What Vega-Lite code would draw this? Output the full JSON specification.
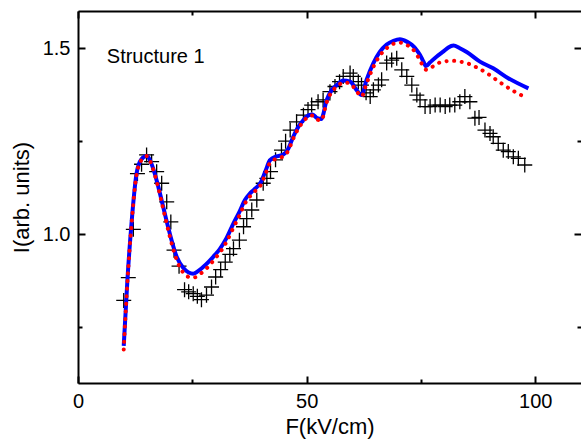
{
  "$schema": "https://vega.github.io/schema/vega-lite/v6.json",
  "width": 503,
  "height": 372,
  "autosize": {"type": "none"},
  "padding": {"left": 78, "top": 11, "right": 0, "bottom": 60},
  "background": "white",
  "config": {
    "view": {"stroke": null},
    "font": "Liberation Sans",
    "axis": {
      "domainColor": "black", "domainWidth": 2, "tickColor": "black", "tickWidth": 2,
      "labelColor": "black", "titleColor": "black", "labelFontSize": 20, "titleFontSize": 22,
      "titleFontWeight": "normal", "grid": false, "labelFont": "Liberation Sans", "titleFont": "Liberation Sans"
    }
  },
  "datasets": {
    "exp": [
      {"F": 10.0, "I": 0.822}, {"F": 11.0, "I": 0.883}, {"F": 12.1, "I": 1.013}, {"F": 13.0, "I": 1.163},
      {"F": 13.9, "I": 1.188}, {"F": 15.0, "I": 1.213}, {"F": 16.1, "I": 1.195}, {"F": 17.2, "I": 1.168},
      {"F": 18.3, "I": 1.137}, {"F": 19.4, "I": 1.087}, {"F": 20.3, "I": 1.033}, {"F": 21.0, "I": 0.957},
      {"F": 22.1, "I": 0.914}, {"F": 23.3, "I": 0.851}, {"F": 24.2, "I": 0.845}, {"F": 25.2, "I": 0.84},
      {"F": 26.1, "I": 0.833}, {"F": 27.0, "I": 0.824}, {"F": 28.1, "I": 0.836}, {"F": 29.2, "I": 0.858},
      {"F": 30.1, "I": 0.885}, {"F": 31.2, "I": 0.905}, {"F": 32.2, "I": 0.925}, {"F": 33.2, "I": 0.946},
      {"F": 34.0, "I": 0.961}, {"F": 35.3, "I": 0.984}, {"F": 36.2, "I": 1.02}, {"F": 36.9, "I": 1.042},
      {"F": 38.0, "I": 1.065}, {"F": 39.1, "I": 1.092}, {"F": 40.5, "I": 1.137}, {"F": 41.3, "I": 1.15},
      {"F": 42.1, "I": 1.168}, {"F": 43.2, "I": 1.2}, {"F": 44.5, "I": 1.226}, {"F": 45.4, "I": 1.25},
      {"F": 46.4, "I": 1.28}, {"F": 47.8, "I": 1.302}, {"F": 49.3, "I": 1.32}, {"F": 50.3, "I": 1.335},
      {"F": 51.1, "I": 1.347}, {"F": 52.5, "I": 1.356}, {"F": 53.6, "I": 1.361}, {"F": 55.1, "I": 1.383},
      {"F": 56.2, "I": 1.397}, {"F": 57.2, "I": 1.41}, {"F": 58.0, "I": 1.424}, {"F": 59.5, "I": 1.433},
      {"F": 60.2, "I": 1.424}, {"F": 61.3, "I": 1.41}, {"F": 62.0, "I": 1.401}, {"F": 63.0, "I": 1.38},
      {"F": 63.9, "I": 1.37}, {"F": 64.6, "I": 1.388}, {"F": 65.7, "I": 1.401}, {"F": 66.4, "I": 1.415},
      {"F": 67.5, "I": 1.46}, {"F": 68.6, "I": 1.468}, {"F": 69.7, "I": 1.473}, {"F": 70.8, "I": 1.442},
      {"F": 71.9, "I": 1.424}, {"F": 73.0, "I": 1.401}, {"F": 74.1, "I": 1.374}, {"F": 74.8, "I": 1.361},
      {"F": 75.9, "I": 1.343}, {"F": 77.0, "I": 1.343}, {"F": 78.1, "I": 1.347}, {"F": 79.2, "I": 1.347},
      {"F": 80.3, "I": 1.343}, {"F": 81.3, "I": 1.347}, {"F": 82.4, "I": 1.347}, {"F": 83.5, "I": 1.356},
      {"F": 84.6, "I": 1.37}, {"F": 85.7, "I": 1.356}, {"F": 86.8, "I": 1.312}, {"F": 87.7, "I": 1.314},
      {"F": 89.0, "I": 1.28}, {"F": 90.1, "I": 1.271}, {"F": 90.8, "I": 1.262}, {"F": 91.9, "I": 1.244},
      {"F": 93.0, "I": 1.226}, {"F": 94.1, "I": 1.222}, {"F": 95.2, "I": 1.208}, {"F": 96.3, "I": 1.204},
      {"F": 97.7, "I": 1.186}
    ],
    "blue": [
      {"F": 10.0, "I": 0.70}, {"F": 10.8, "I": 0.876}, {"F": 11.7, "I": 1.029}, {"F": 12.8, "I": 1.163},
      {"F": 13.8, "I": 1.2}, {"F": 15.0, "I": 1.21}, {"F": 16.2, "I": 1.185}, {"F": 17.3, "I": 1.14},
      {"F": 18.6, "I": 1.075}, {"F": 20.0, "I": 1.005}, {"F": 21.6, "I": 0.939}, {"F": 23.0, "I": 0.91},
      {"F": 24.2, "I": 0.897}, {"F": 25.2, "I": 0.894}, {"F": 26.7, "I": 0.905}, {"F": 28.5, "I": 0.925},
      {"F": 30.0, "I": 0.945}, {"F": 31.0, "I": 0.96}, {"F": 32.5, "I": 0.99}, {"F": 34.0, "I": 1.029},
      {"F": 35.3, "I": 1.06}, {"F": 36.5, "I": 1.092}, {"F": 37.5, "I": 1.108}, {"F": 38.5, "I": 1.12},
      {"F": 40.0, "I": 1.14}, {"F": 41.0, "I": 1.17}, {"F": 42.0, "I": 1.199}, {"F": 43.4, "I": 1.209},
      {"F": 44.9, "I": 1.214}, {"F": 46.0, "I": 1.23}, {"F": 47.0, "I": 1.26}, {"F": 48.0, "I": 1.285},
      {"F": 49.3, "I": 1.307}, {"F": 50.5, "I": 1.32}, {"F": 51.3, "I": 1.322}, {"F": 52.3, "I": 1.312},
      {"F": 53.2, "I": 1.31}, {"F": 54.4, "I": 1.361}, {"F": 55.5, "I": 1.388}, {"F": 56.6, "I": 1.401},
      {"F": 58.0, "I": 1.413}, {"F": 59.5, "I": 1.41}, {"F": 60.9, "I": 1.388}, {"F": 62.0, "I": 1.374},
      {"F": 63.1, "I": 1.415}, {"F": 64.6, "I": 1.46}, {"F": 66.0, "I": 1.49}, {"F": 67.5, "I": 1.51},
      {"F": 69.0, "I": 1.52}, {"F": 70.4, "I": 1.524}, {"F": 72.0, "I": 1.517}, {"F": 73.0, "I": 1.509},
      {"F": 74.0, "I": 1.496}, {"F": 74.8, "I": 1.482}, {"F": 75.5, "I": 1.465}, {"F": 76.1, "I": 1.452},
      {"F": 77.0, "I": 1.462}, {"F": 78.4, "I": 1.477}, {"F": 80.0, "I": 1.492}, {"F": 81.0, "I": 1.502},
      {"F": 82.1, "I": 1.507}, {"F": 83.5, "I": 1.5}, {"F": 85.0, "I": 1.49}, {"F": 87.9, "I": 1.464},
      {"F": 90.8, "I": 1.446}, {"F": 94.0, "I": 1.42}, {"F": 98.5, "I": 1.392}
    ],
    "red": [
      {"F": 10.0, "I": 0.69}, {"F": 10.8, "I": 0.87}, {"F": 11.7, "I": 1.025}, {"F": 12.8, "I": 1.16},
      {"F": 13.8, "I": 1.198}, {"F": 15.0, "I": 1.21}, {"F": 16.2, "I": 1.183}, {"F": 17.3, "I": 1.137},
      {"F": 18.6, "I": 1.07}, {"F": 20.0, "I": 0.998}, {"F": 21.6, "I": 0.93}, {"F": 23.0, "I": 0.897},
      {"F": 24.2, "I": 0.885}, {"F": 25.2, "I": 0.883}, {"F": 26.7, "I": 0.893}, {"F": 28.5, "I": 0.913},
      {"F": 30.0, "I": 0.935}, {"F": 31.0, "I": 0.95}, {"F": 32.5, "I": 0.98}, {"F": 34.0, "I": 1.018},
      {"F": 35.3, "I": 1.05}, {"F": 36.5, "I": 1.082}, {"F": 37.5, "I": 1.1}, {"F": 38.5, "I": 1.113},
      {"F": 40.0, "I": 1.133}, {"F": 41.0, "I": 1.162}, {"F": 42.0, "I": 1.192}, {"F": 43.4, "I": 1.203},
      {"F": 44.9, "I": 1.209}, {"F": 46.0, "I": 1.225}, {"F": 47.0, "I": 1.255}, {"F": 48.0, "I": 1.28},
      {"F": 49.3, "I": 1.303}, {"F": 50.5, "I": 1.317}, {"F": 51.3, "I": 1.319}, {"F": 52.3, "I": 1.308},
      {"F": 53.2, "I": 1.306}, {"F": 54.4, "I": 1.355}, {"F": 55.5, "I": 1.383}, {"F": 56.6, "I": 1.396},
      {"F": 58.0, "I": 1.408}, {"F": 59.5, "I": 1.405}, {"F": 60.9, "I": 1.385}, {"F": 62.0, "I": 1.37},
      {"F": 63.1, "I": 1.405}, {"F": 64.6, "I": 1.45}, {"F": 66.0, "I": 1.48}, {"F": 67.5, "I": 1.5},
      {"F": 69.0, "I": 1.512}, {"F": 70.4, "I": 1.515}, {"F": 72.0, "I": 1.508}, {"F": 73.0, "I": 1.5},
      {"F": 74.0, "I": 1.485}, {"F": 75.0, "I": 1.462}, {"F": 76.2, "I": 1.442}, {"F": 77.5, "I": 1.45},
      {"F": 78.8, "I": 1.46}, {"F": 80.5, "I": 1.465}, {"F": 82.1, "I": 1.466}, {"F": 83.5, "I": 1.464},
      {"F": 85.0, "I": 1.46}, {"F": 86.4, "I": 1.453}, {"F": 89.4, "I": 1.433}, {"F": 92.3, "I": 1.408},
      {"F": 95.2, "I": 1.385}, {"F": 96.9, "I": 1.374}
    ]
  },
  "layer": [
    {
      "data": {"name": "exp"},
      "mark": {"type": "point", "shape": "M-1,0H1M0,-1V1", "size": 225, "stroke": "black", "strokeWidth": 1.3, "filled": false, "opacity": 1},
      "encoding": {
        "x": {"field": "F", "type": "quantitative", "scale": {"domain": [0, 110], "nice": false, "zero": false},
              "axis": {"orient": "bottom", "values": [0, 50, 100], "tickSize": -7, "labelPadding": 15, "title": "F(kV/cm)", "titlePadding": 5, "labelFlush": false}},
        "y": {"field": "I", "type": "quantitative", "scale": {"domain": [0.6, 1.6], "nice": false, "zero": false},
              "axis": {"orient": "left", "values": [1.0, 1.5], "format": ".1f", "tickSize": -7, "labelPadding": 15, "title": "I(arb. units)", "titlePadding": 9, "labelFlush": false}}
      }
    },
    {
      "data": {"name": "blue"},
      "mark": {"type": "line", "color": "#0000ff", "strokeWidth": 4, "interpolate": "monotone"},
      "encoding": {
        "x": {"field": "F", "type": "quantitative", "axis": {"orient": "top", "values": [0, 50, 100], "tickSize": -7, "labels": false, "title": null}},
        "y": {"field": "I", "type": "quantitative", "axis": {"orient": "right", "values": [1.0, 1.5], "tickSize": -7, "labels": false, "domain": false, "title": null}}
      }
    },
    {
      "data": {"name": "red"},
      "mark": {"type": "line", "color": "#ff0000", "strokeWidth": 4, "interpolate": "monotone", "strokeDash": [0.1, 7.5], "strokeCap": "round"},
      "encoding": {
        "x": {"field": "F", "type": "quantitative", "axis": {"orient": "bottom", "values": [25, 75], "tickSize": -4, "labels": false, "domain": false, "title": null}},
        "y": {"field": "I", "type": "quantitative", "axis": {"orient": "left", "values": [0.75, 1.25], "tickSize": -4, "labels": false, "domain": false, "title": null}}
      }
    },
    {
      "data": {"values": [{}]},
      "mark": {"type": "text", "align": "left", "baseline": "alphabetic", "fontSize": 20, "font": "Liberation Sans", "color": "black"},
      "encoding": {
        "x": {"datum": 6.3, "type": "quantitative", "axis": {"orient": "top", "values": [25, 75], "tickSize": -4, "labels": false, "domain": false, "title": null}},
        "y": {"datum": 1.46, "type": "quantitative", "axis": {"orient": "right", "values": [0.75, 1.25], "tickSize": -4, "labels": false, "domain": false, "title": null}},
        "text": {"value": "Structure 1"}
      }
    }
  ],
  "resolve": {"axis": {"x": "independent", "y": "independent"}}
}
